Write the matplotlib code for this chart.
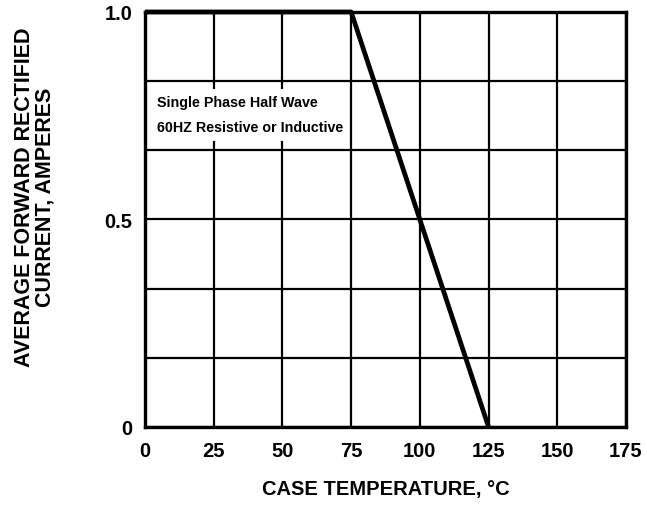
import matplotlib.pyplot as plt
from matplotlib.patches import Rectangle

# derating curve
case_temp = [0, 75, 125]
current = [1.0, 1.0, 0.0]

x_ticks = [0, 25, 50, 75, 100, 125, 150, 175]
y_ticks = [0, 0.5, 1.0]
y_tick_labels = ['0', '0.5', '1.0']
y_minor = [1/6, 2/6, 4/6, 5/6]

plt.rcParams['font.family'] = ['Liberation Sans', 'DejaVu Sans']

fig = plt.figure(figsize=(6.47, 5.06), dpi=100)
ax = fig.add_axes([0.2241, 0.1542, 0.7434, 0.8202])

ax.plot(case_temp, current, c='k', lw=3.4, solid_capstyle='butt', clip_on=False, zorder=5)

ax.set_xlim(0, 175)
ax.set_ylim(0, 1.0)
ax.set_xticks(x_ticks)
ax.set_xticklabels([str(t) for t in x_ticks], fontsize=14.5, fontweight='bold')
ax.set_yticks(y_ticks)
ax.set_yticklabels(y_tick_labels, fontsize=14.5, fontweight='bold')
ax.set_yticks(y_minor, minor=True)
ax.tick_params(axis='both', which='both', length=0)
ax.tick_params(axis='x', pad=10)
ax.tick_params(axis='y', pad=9)

ax.grid(True, which='both', color='k', lw=1.6)
ax.set_axisbelow(True)
for s in ax.spines.values():
    s.set_linewidth(2.4)

# note box hides the grid behind it
ax.add_patch(Rectangle((1.0, 0.69), 72.0, 0.125, fc='white', ec='none', zorder=2))
ax.text(4.5, 0.783, 'Single Phase Half Wave', fontsize=10.3, fontweight='bold',
        va='center', zorder=3)
ax.text(4.5, 0.722, '60HZ Resistive or Inductive', fontsize=10.3, fontweight='bold',
        va='center', zorder=3)

fig.text(0.5966, 1 - 490/506, 'CASE TEMPERATURE, °C', fontsize=14.5, fontweight='bold',
         ha='center', va='center')
fig.text(35/647, 1 - 197/506, 'AVERAGE FORWARD RECTIFIED\nCURRENT, AMPERES', fontsize=15.5,
         fontweight='bold', rotation=90, ha='center', va='center',
         multialignment='center', linespacing=1.0)

plt.savefig('out.png', dpi=100)
